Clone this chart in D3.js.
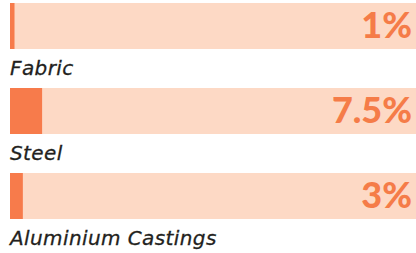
<!DOCTYPE html>
<html>
<head>
<meta charset="utf-8">
<script src="https://cdn.jsdelivr.net/npm/d3@7"></script>
<style>
  html, body { margin: 0; padding: 0; background: #ffffff; }
  svg { display: block; }
</style>
</head>
<body>
<svg id="chart" width="416" height="253"></svg>
<script>
const materials = ["Fabric", "Steel", "Aluminium Castings"];
const shares = [1, 7.5, 3];
const shareLabels = ["1%", "7.5%", "3%"];

const width = 416;
const height = 253;
const margin = { top: 3, right: 0, bottom: 0, left: 10 };

const svg = d3.select("#chart");
const chartArea = svg.append("g")
    .attr("transform", `translate(${margin.left},${margin.top})`);

const barHeight = 46;

const yScale = d3.scaleBand()
    .domain(materials)
    .range([0, 255])
    .paddingInner(0);

const xScale = d3.scaleLinear()
    .domain([0, 100])
    .range([0, 428]);

const rows = materials.map((m, i) => ({ name: m, value: shares[i], label: shareLabels[i] }));

chartArea.selectAll(".bar-bg")
    .data(rows)
    .join("rect")
    .attr("class", "bar-bg")
    .attr("x", 0)
    .attr("y", d => yScale(d.name))
    .attr("width", width - margin.left)
    .attr("height", barHeight)
    .attr("fill", "#fdd9c5");

chartArea.selectAll(".bar")
    .data(rows)
    .join("rect")
    .attr("class", "bar")
    .attr("x", 0)
    .attr("y", d => yScale(d.name))
    .attr("width", d => Math.max(4.5, xScale(d.value)))
    .attr("height", barHeight)
    .attr("fill", "#f77b4b");

chartArea.selectAll(".value-label")
    .data(rows)
    .join("text")
    .attr("class", "value-label")
    .attr("x", width - margin.left - 4)
    .attr("y", d => yScale(d.name) + 35)
    .attr("text-anchor", "end")
    .attr("font-family", "Lato, 'Noto Sans', sans-serif")
    .attr("font-weight", 900)
    .attr("font-size", 36)
    .attr("fill", "#f57c48")
    .text(d => d.label);

chartArea.selectAll(".name-label")
    .data(rows)
    .join("text")
    .attr("class", "name-label")
    .attr("x", 0)
    .attr("y", d => yScale(d.name) + barHeight + 26)
    .attr("font-family", "'DejaVu Sans', sans-serif")
    .attr("font-style", "italic")
    .attr("font-size", 20)
    .attr("letter-spacing", 0.4)
    .attr("fill", "#231f20")
    .attr("stroke", "#231f20")
    .attr("stroke-width", 0.3)
    .text(d => d.name);
</script>
</body>
</html>
